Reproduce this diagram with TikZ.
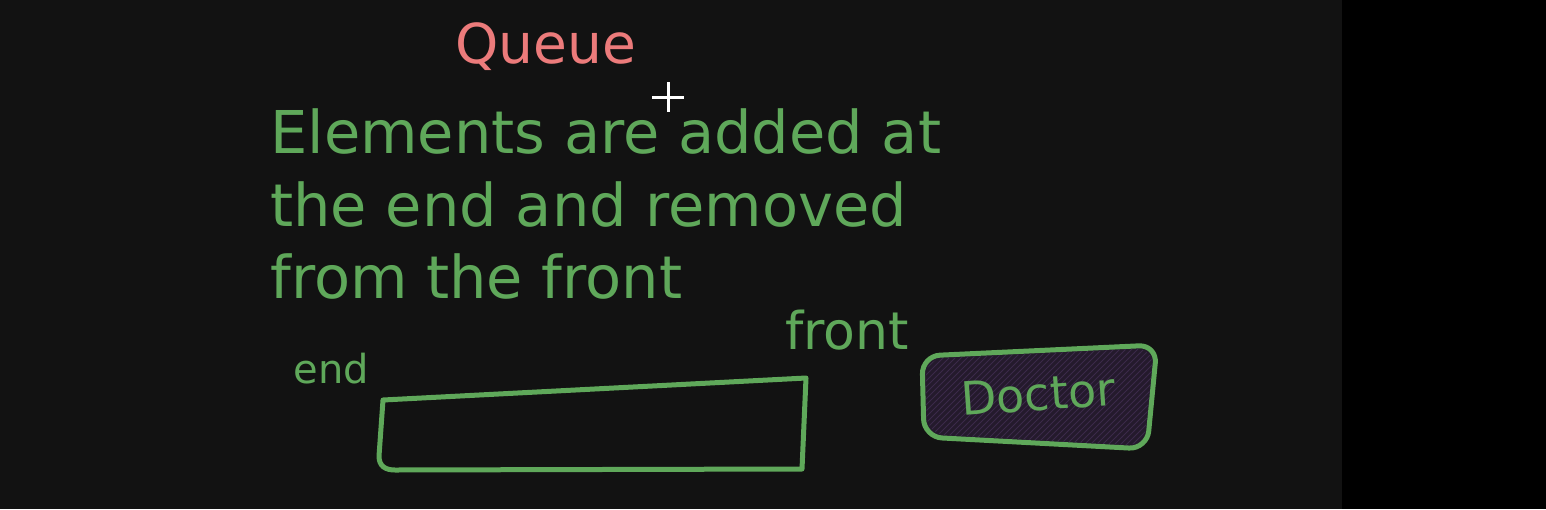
\documentclass[tikz,border=0pt]{standalone}
\usepackage{fontspec}
\setmainfont{DejaVu Sans}
\usetikzlibrary{patterns}
\definecolor{bg}{HTML}{121212}
\definecolor{grn}{HTML}{5FA85A}
\definecolor{pinkish}{HTML}{EC7B7B}
\definecolor{docfill}{HTML}{241A2C}
\definecolor{dochatch}{HTML}{3B2A4A}
\tikzset{
  hand/.style={draw=grn, line width=2.5pt, line cap=round, line join=round},
  gtext/.style={text=grn, inner sep=0pt},
}
\begin{document}
\begin{tikzpicture}[x=0.5pt,y=-0.5pt]
\fill[bg] (0,0) rectangle (1342,509);
\fill[black] (1342,0) rectangle (1546,509);
\useasboundingbox (0,0) rectangle (1546,509);

% title
\node[text=pinkish, inner sep=0pt, anchor=base west, font=\fontsize{27.5}{27.5}\selectfont] (title) at (455,63) {Queue};

% cursor
\coordinate (cur) at (668,97);
\draw[white, line width=1.5pt] ([xshift=-8pt]cur) -- ([xshift=8pt]cur);
\draw[white, line width=1.5pt] ([yshift=7.5pt]cur) -- ([yshift=-7.5pt]cur);

% definition text
\node[gtext, anchor=base west, font=\fontsize{29.5}{29.5}\selectfont] (l1) at (270,153) {Elements are added at};
\node[gtext, anchor=base west, font=\fontsize{29.5}{29.5}\selectfont] (l2) at (270,226) {the end and removed};
\node[gtext, anchor=base west, font=\fontsize{29.5}{29.5}\selectfont] (l3) at (270,298) {from the front};

% labels
\node[gtext, anchor=base west, font=\fontsize{20}{20}\selectfont] (endlbl) at (293,383) {end};
\node[gtext, anchor=base west, font=\fontsize{26}{26}\selectfont] (frontlbl) at (785,349) {front};

% queue rectangle
\draw[hand] (383,400) -- (806,378) -- (802,469) -- (395,470) .. controls (385,470) and (379,466) .. (379,456) -- cycle;

% doctor box
\path[hand, fill=docfill, rounded corners=9pt] (922,356) -- (1157,345) -- (1147,449) -- (924,437) -- cycle;
\path[pattern=north east lines, pattern color=dochatch, rounded corners=9pt] (925,359) -- (1154,348) -- (1144,446) -- (927,434) -- cycle;
\node[gtext, rotate=4, font=\fontsize{23}{23}\selectfont] (doctor) at (1038,394) {Doctor};
\end{tikzpicture}
\end{document}
